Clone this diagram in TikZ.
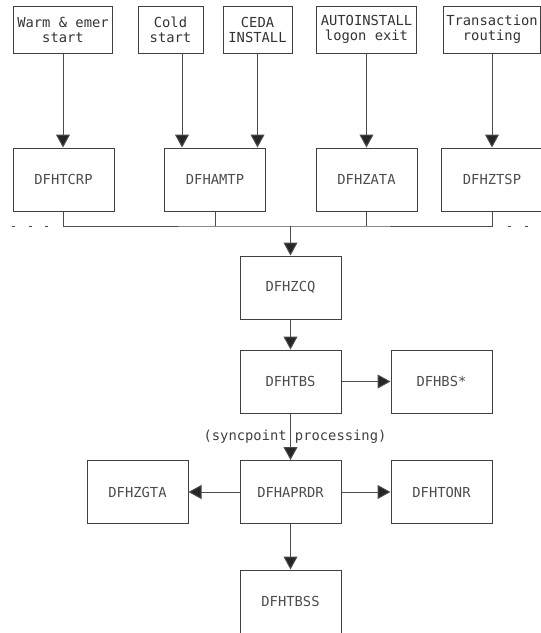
\documentclass[tikz,border=0pt]{standalone}
\usepackage{fontspec}
\newfontfamily\chartfont{DejaVu Sans Mono}
\usepackage{tikz}
\usetikzlibrary{arrows.meta}
\tikzset{
  every picture/.style={x=1pt,y=-1pt},
  modbox/.style={draw=black!75, line width=1pt, minimum width=101pt, minimum height=63pt,
    inner sep=0pt, text=black!70, font=\chartfont\fontsize{13.8}{15}\selectfont},
  entrybox/.style={modbox, minimum height=47pt, align=center, text=black!80},
  wire/.style={draw=black!70, line width=1pt},
  flow/.style={wire, -{Triangle[length=13pt,width=14pt,fill=black!85]}},
  moredash/.style={wire, dash pattern=on 3pt off 13.5pt}
}

\begin{document}
\begin{tikzpicture}
    \useasboundingbox (0,0) rectangle (541,633);
    % entry points
    \node[entrybox, minimum width=99pt] (warm) at (63,29.5) {Warm \& emer\\start};
    \node[entrybox, minimum width=65pt] (cold) at (170.5,29.5) {Cold\\start};
    \node[entrybox, minimum width=69pt] (ceda) at (257.5,29.5) {CEDA\\INSTALL};
    \node[entrybox, minimum width=100pt] (auto) at (366.5,29.5) {AUTOINSTALL\\logon exit};
    \node[entrybox, minimum width=97pt] (trans) at (492,29.5) {Transaction\\routing};
    % first level modules
    \node[modbox] (tcrp) at (63.5,179.5) {DFHTCRP};
    \node[modbox] (amtp) at (215,179.5) {DFHAMTP};
    \node[modbox] (zata) at (366.5,179.5) {DFHZATA};
    \node[modbox] (ztsp) at (492,179.5) {DFHZTSP};
    \draw[flow] (warm.south) -- (warm.south |- tcrp.north);
    \draw[flow] ([xshift=11.5pt]cold.south) -- ([xshift=11.5pt]cold.south |- amtp.north);
    \draw[flow] (ceda.south) -- (ceda.south |- amtp.north);
    \draw[flow] (auto.south) -- (zata.north);
    \draw[flow] (trans.south) -- (ztsp.north);
    % collecting line
    \coordinate (join) at (290.5,226);
    \draw[wire] (tcrp.south) |- (join) -| (ztsp.south);
    \draw[wire] (amtp.south) -- (amtp.south |- join);
    \draw[wire] (zata.south) -- (zata.south |- join);
    \draw[moredash] (12,226) -- (49,226);
    \draw[moredash] (508,226) -- (528,226);
    % main chain
    \node[modbox] (zcq) at (290.5,287.5) {DFHZCQ};
    \node[modbox] (tbs) at (290.5,381.5) {DFHTBS};
    \node[modbox] (bs) at (441.5,381.5) {DFHBS*};
    \node[modbox] (aprdr) at (290.5,492) {DFHAPRDR};
    \node[modbox] (zgta) at (137.5,492) {DFHZGTA};
    \node[modbox] (tonr) at (441.5,492) {DFHTONR};
    \node[modbox] (tbss) at (290.5,601.5) {DFHTBSS};
    \draw[flow] (join) -- (zcq.north);
    \draw[flow] (zcq.south) -- (tbs.north);
    \draw[flow] (tbs.east) -- (bs.west);
    \draw[flow] (tbs.south) -- (aprdr.north);
    \node[text=black!75, font=\chartfont\fontsize{13.8}{15}\selectfont, inner sep=0pt] (sync) at (295,437) {(syncpoint processing)};
    \draw[flow] (aprdr.west) -- (zgta.east);
    \draw[flow] (aprdr.east) -- (tonr.west);
    \draw[flow] (aprdr.south) -- (tbss.north);
\end{tikzpicture}
\end{document}
